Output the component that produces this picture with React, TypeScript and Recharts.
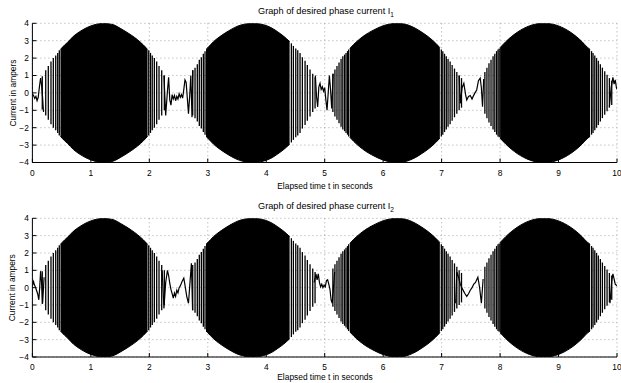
import React from 'react';
import { ComposedChart, Area, Line, ErrorBar, XAxis, YAxis, CartesianGrid } from 'recharts';

type Pair = [number, number];

const timeTicks = [0, 1, 2, 3, 4, 5, 6, 7, 8, 9, 10];
const currentTicks = [-4, -3, -2, -1, 0, 1, 2, 3, 4];

// Dense centre of each burst: [time s, envelope amplitude A]
const core1: Pair[] = [[0.48, 2.5], [0.55, 2.75], [0.6, 2.9], [0.7, 3.25], [0.8, 3.5], [0.9, 3.7], [1.0, 3.85], [1.1, 3.95], [1.2, 4.0], [1.3, 3.98], [1.4, 3.9], [1.5, 3.72], [1.6, 3.52], [1.7, 3.3], [1.8, 3.05], [1.9, 2.75], [1.97, 2.5]];
const core2: Pair[] = [[2.97, 2.5], [3.0, 2.6], [3.1, 2.95], [3.2, 3.22], [3.3, 3.45], [3.4, 3.65], [3.5, 3.82], [3.6, 3.93], [3.7, 3.99], [3.8, 4.0], [3.9, 3.96], [4.0, 3.87], [4.1, 3.72], [4.2, 3.5], [4.3, 3.25], [4.4, 2.95]];
const core3: Pair[] = [[5.43, 2.55], [5.5, 2.8], [5.6, 3.1], [5.7, 3.35], [5.8, 3.55], [5.9, 3.72], [6.0, 3.86], [6.1, 3.95], [6.2, 4.0], [6.3, 3.99], [6.4, 3.93], [6.5, 3.8], [6.6, 3.62], [6.7, 3.4], [6.8, 3.15], [6.9, 2.85], [6.97, 2.6]];
const core4: Pair[] = [[8.0, 2.6], [8.1, 2.95], [8.2, 3.25], [8.3, 3.5], [8.4, 3.7], [8.5, 3.85], [8.6, 3.95], [8.7, 4.0], [8.8, 4.0], [8.9, 3.95], [9.0, 3.85], [9.1, 3.7], [9.2, 3.5], [9.3, 3.25], [9.4, 2.95], [9.5, 2.6], [9.54, 2.5]];

// Individual oscillation swings on the rising / falling flanks: [time s, peak amplitude A]
const lobe1Rise: Pair[] = [[0.169, 0.95], [0.228, 1.3], [0.272, 1.55], [0.318, 1.8], [0.358, 2.0], [0.399, 2.15], [0.433, 2.3], [0.46, 2.45]];
const lobe1Fall: Pair[] = [[1.99, 2.45], [2.02, 2.3], [2.05, 2.15], [2.086, 2.0], [2.126, 1.8], [2.166, 1.55], [2.212, 1.3], [2.257, 1.0]];
const lobe2Rise: Pair[] = [[2.742, 1.3], [2.782, 1.45], [2.821, 1.65], [2.855, 1.9], [2.89, 2.05], [2.924, 2.25], [2.953, 2.4]];
const lobe2Fall: Pair[] = [[4.43, 2.85], [4.464, 2.7], [4.505, 2.55], [4.539, 2.45], [4.578, 2.3], [4.618, 2.05], [4.664, 1.85], [4.703, 1.6], [4.749, 1.35], [4.795, 1.1], [4.835, 0.9]];
const lobe3Rise: Pair[] = [[5.14, 1.1], [5.175, 1.35], [5.21, 1.55], [5.245, 1.75], [5.28, 1.95], [5.31, 2.1], [5.34, 2.2], [5.365, 2.3], [5.39, 2.4], [5.41, 2.5]];
const lobe3Fall: Pair[] = [[6.995, 2.5], [7.02, 2.4], [7.05, 2.25], [7.08, 2.1], [7.11, 1.95], [7.145, 1.8], [7.18, 1.6], [7.22, 1.4], [7.26, 1.2], [7.3, 1.0], [7.34, 0.85]];
const lobe4Rise: Pair[] = [[7.74, 1.2], [7.775, 1.45], [7.81, 1.7], [7.845, 1.9], [7.88, 2.1], [7.91, 2.25], [7.94, 2.4], [7.965, 2.5], [7.985, 2.55]];
const lobe4Fall: Pair[] = [[9.565, 2.4], [9.59, 2.3], [9.62, 2.15], [9.65, 2.0], [9.68, 1.85], [9.715, 1.65], [9.75, 1.45], [9.79, 1.25], [9.83, 1.05], [9.87, 0.85], [9.91, 0.7]];

// Low-amplitude current between bursts, phase 1: [time s, current A]
const i1Noise: Pair[][] = [
  [[0, -0.05], [0.02, -0.15], [0.04, -0.32], [0.06, -0.2], [0.08, -0.45], [0.1, -0.25], [0.12, 0.35], [0.14, 0.85], [0.155, 0.5], [0.175, -0.3], [0.19, -1.1]],
  [[2.25, 1.0], [2.28, -1.3], [2.31, 0.1], [2.33, 0.9], [2.35, -0.4], [2.37, -0.7], [2.39, -0.1], [2.41, -0.35], [2.43, -0.15], [2.45, -0.45], [2.47, -0.2], [2.49, -0.35], [2.51, -0.05], [2.53, -0.25], [2.55, -0.1], [2.57, -0.3], [2.59, 0.2], [2.61, 0.75], [2.63, 0.6], [2.65, -0.3], [2.67, -1.2], [2.69, -0.2], [2.71, 1.0], [2.73, -1.4], [2.745, 1.3]],
  [[4.84, 1.0], [4.86, -0.2], [4.88, -0.8], [4.9, 0.35], [4.92, 0.55], [4.94, 0.2], [4.96, 0.35], [4.98, 0.1], [5.0, 0.3], [5.02, -0.4], [5.04, -1.0], [5.06, 0.0], [5.08, 1.0], [5.1, 0.2], [5.12, -0.9], [5.145, 1.1]],
  [[7.3, 1.0], [7.32, -0.6], [7.35, 0.3], [7.38, 0.55], [7.41, -0.1], [7.43, -0.4], [7.46, -0.2], [7.49, -0.15], [7.52, -0.35], [7.54, -0.2], [7.57, 0.0], [7.6, 0.17], [7.63, 0.7], [7.66, 0.85], [7.68, 0.3], [7.7, -0.8], [7.72, 0.8]],
  [[9.87, -0.8], [9.9, 0.3], [9.93, 0.9], [9.95, 0.5], [9.97, 0.75], [9.99, 0.3], [10, 0.2]],
];

// Low-amplitude current between bursts, phase 2
const i2Noise: Pair[][] = [
  [[0, 0.1], [0.02, 0.35], [0.035, 0.15], [0.05, 0.05], [0.07, -0.15], [0.09, -0.35], [0.11, -0.7], [0.125, 0.0], [0.14, 0.95], [0.155, 0.4], [0.175, -0.9], [0.2, 0.6]],
  [[2.22, 1.0], [2.25, -1.2], [2.28, 0.3], [2.31, 1.0], [2.33, 0.7], [2.35, 0.25], [2.37, -0.1], [2.39, -0.35], [2.41, -0.6], [2.43, -0.3], [2.45, -0.5], [2.47, -0.15], [2.49, -0.3], [2.51, 0.0], [2.53, 0.1], [2.56, 0.35], [2.59, 0.55], [2.61, 0.15], [2.64, -0.5], [2.67, -0.9], [2.7, 0.5], [2.72, 1.4], [2.74, -1.3]],
  [[4.82, 0.3], [4.85, 0.8], [4.87, 0.45], [4.89, 0.8], [4.91, 0.3], [4.93, 0.05], [4.95, 0.2], [4.97, 0.0], [4.99, 0.15], [5.01, 0.05], [5.03, 0.4], [5.05, 0.45], [5.07, 0.2], [5.09, -0.1], [5.11, -0.7], [5.13, -0.9], [5.15, 0.0], [5.17, 0.9]],
  [[7.24, -0.9], [7.26, 0.9], [7.29, 0.6], [7.32, 0.2], [7.36, -0.1], [7.4, -0.35], [7.43, -0.5], [7.46, -0.35], [7.49, -0.15], [7.52, 0.0], [7.55, 0.2], [7.58, 0.3], [7.6, 0.45], [7.62, 0.6], [7.65, 0.0], [7.68, -0.9], [7.71, 0.5]],
  [[9.88, -0.9], [9.91, 0.4], [9.93, 0.8], [9.95, 0.5], [9.97, 0.2], [10, 0.1]],
];

const cores = [core1, core2, core3, core4];
const flanks = [lobe1Rise, lobe1Fall, lobe2Rise, lobe2Fall, lobe3Rise, lobe3Fall, lobe4Rise, lobe4Fall];

const FONT = "'Liberation Sans', Arial, Helvetica, sans-serif";
const AXIS_FONT = 8.4;

const bandRows = (core: Pair[]) => core.map(([t, a]) => ({ t, band: [-a, a] }));
const spikeRows = flanks.flat().map(([t, a]) => ({ t, v: 0, amp: a }));
const noiseRows = (segs: Pair[][]) => {
  const rows: { t: number; v: number | null }[] = [];
  segs.forEach((seg, i) => {
    seg.forEach(([t, v]) => rows.push({ t, v }));
    if (i < segs.length - 1) rows.push({ t: seg[seg.length - 1][0], v: null });
  });
  return rows;
};

const fmtCurrent = (v: number) => (v < 0 ? `\u2212${Math.abs(v)}` : `${v}`);

type PanelProps = {
  top: number;
  height: number;
  marginTop: number;
  axisHeight: number;
  noise: Pair[][];
};

function Panel({ top, height, marginTop, axisHeight, noise }: PanelProps) {
  const axisStroke = { stroke: '#000', strokeWidth: 1 };
  return (
    <div style={{ position: 'absolute', left: 0, top, width: 621, height }}>
      <ComposedChart width={621} height={height} margin={{ top: marginTop, right: 4, bottom: 0, left: 4 }}>
        <CartesianGrid stroke="#808080" strokeDasharray="1 3" strokeWidth={0.7} />
        <XAxis
          dataKey="t"
          type="number"
          domain={[0, 10]}
          ticks={timeTicks}
          interval={0}
          allowDataOverflow
          height={axisHeight}
          tickSize={-4}
          tickMargin={11.5}
          axisLine={axisStroke}
          tickLine={axisStroke}
          tick={{ fill: '#000', fontSize: AXIS_FONT, fontFamily: FONT }}
        />
        <XAxis
          xAxisId="frameTop"
          orientation="top"
          type="number"
          domain={[0, 10]}
          ticks={timeTicks}
          interval={0}
          allowDataOverflow
          height={0}
          tickSize={-4}
          axisLine={axisStroke}
          tickLine={axisStroke}
          tick={false}
        />
        <YAxis
          type="number"
          domain={[-4, 4]}
          ticks={currentTicks}
          interval={0}
          allowDataOverflow
          width={28.4}
          tickSize={-4}
          tickMargin={7.5}
          tickFormatter={fmtCurrent}
          axisLine={axisStroke}
          tickLine={axisStroke}
          tick={{ fill: '#000', fontSize: AXIS_FONT, fontFamily: FONT }}
        />
        <YAxis
          yAxisId="frameRight"
          orientation="right"
          type="number"
          domain={[-4, 4]}
          ticks={currentTicks}
          interval={0}
          allowDataOverflow
          width={0}
          tickSize={-4}
          axisLine={axisStroke}
          tickLine={axisStroke}
          tick={false}
        />
        {cores.map((core, i) => (
          <Area
            key={i}
            data={bandRows(core)}
            dataKey="band"
            type="monotone"
            stroke="#000"
            strokeWidth={1}
            fill="#000"
            fillOpacity={1}
            dot={false}
            activeDot={false}
            isAnimationActive={false}
          />
        ))}
        <Line
          data={spikeRows}
          dataKey="v"
          stroke="#000"
          strokeOpacity={0}
          dot={false}
          activeDot={false}
          isAnimationActive={false}
        >
          <ErrorBar dataKey="amp" direction="y" width={0} stroke="#000" strokeWidth={1.3} isAnimationActive={false} />
        </Line>
        <Line
          data={noiseRows(noise)}
          dataKey="v"
          type="linear"
          stroke="#000"
          strokeWidth={1.2}
          dot={false}
          activeDot={false}
          connectNulls={false}
          isAnimationActive={false}
        />
      </ComposedChart>
    </div>
  );
}

function Titles() {
  const common = { fontFamily: FONT, fill: '#000' } as const;
  return (
    <svg width={621} height={383} style={{ position: 'absolute', left: 0, top: 0, pointerEvents: 'none' }}>
      <text x={326} y={14.3} textAnchor="middle" fontSize={9.2} {...common}>
        Graph of desired phase current I<tspan fontSize={6.5} dy={3}>1</tspan>
      </text>
      <text x={325} y={188.5} textAnchor="middle" fontSize={AXIS_FONT} {...common}>Elapsed time t in seconds</text>
      <text x={12.5} y={93} textAnchor="middle" dominantBaseline="central" fontSize={AXIS_FONT} transform="rotate(-90 12.5 93)" {...common}>
        Current in ampers
      </text>
      <text x={326} y={208.5} textAnchor="middle" fontSize={9.2} {...common}>
        Graph of desired phase current I<tspan fontSize={6.5} dy={3}>2</tspan>
      </text>
      <text x={325} y={380} textAnchor="middle" fontSize={AXIS_FONT} {...common}>Elapsed time t in seconds</text>
      <text x={12.5} y={287.7} textAnchor="middle" dominantBaseline="central" fontSize={AXIS_FONT} transform="rotate(-90 12.5 287.7)" {...common}>
        Current in ampers
      </text>
    </svg>
  );
}

export default function App() {
  return (
    <div style={{ position: 'absolute', left: 0, top: 0, width: 621, height: 383, background: '#fff', fontFamily: FONT, overflow: 'hidden' }}>
      <Panel top={0} height={190} marginTop={23.3} axisHeight={27.5} noise={i1Noise} />
      <Panel top={190} height={193} marginTop={28.3} axisHeight={26} noise={i2Noise} />
      <Titles />
    </div>
  );
}
